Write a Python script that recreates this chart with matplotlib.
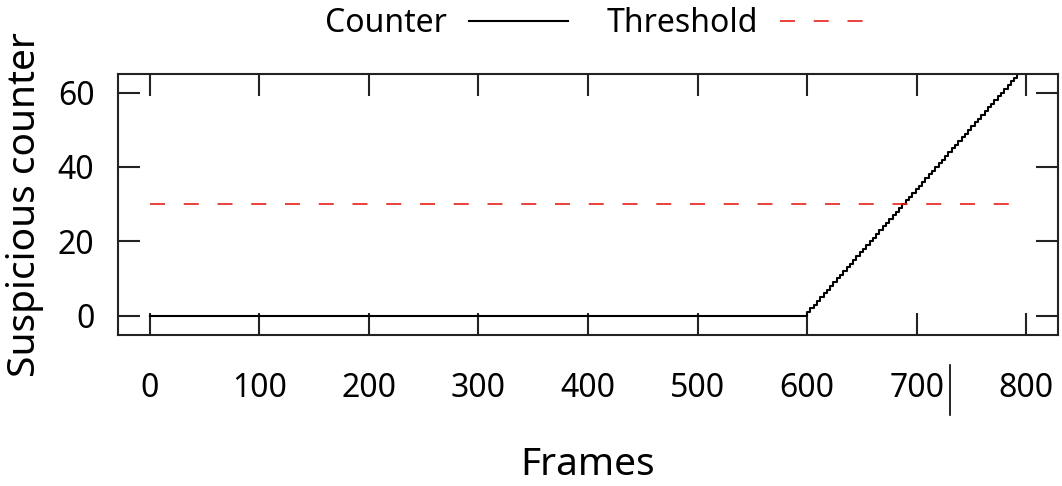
import matplotlib
matplotlib.use("Agg")
import matplotlib.pyplot as plt
from matplotlib.lines import Line2D

plt.rcParams['font.family'] = ['Noto Sans', 'DejaVu Sans']
plt.rcParams['lines.scale_dashes'] = False

# Data
counter_frames = [0, 600, 603, 606, 609, 612, 615, 618, 621, 624, 627, 630, 633, 636,
                  639, 642, 645, 648, 651, 654, 657, 660, 663, 666, 669, 672, 675,
                  678, 681, 684, 687, 690, 693, 696, 699, 702, 705, 708, 711, 714,
                  717, 720, 723, 726, 729, 732, 735, 738, 741, 744, 747, 750, 753,
                  756, 759, 762, 765, 768, 771, 774, 777, 780, 783, 786, 789, 792,
                  795, 798, 800]
counter_values = [0, 1, 2, 3, 4, 5, 6, 7, 8, 9, 10, 11, 12, 13, 14, 15, 16, 17, 18,
                  19, 20, 21, 22, 23, 24, 25, 26, 27, 28, 29, 30, 31, 32, 33, 34, 35,
                  36, 37, 38, 39, 40, 41, 42, 43, 44, 45, 46, 47, 48, 49, 50, 51, 52,
                  53, 54, 55, 56, 57, 58, 59, 60, 61, 62, 63, 64, 65, 66, 67, 67]
threshold_frames = [0, 800]
threshold_values = [30, 30]
x_ticks = [0, 100, 200, 300, 400, 500, 600, 700, 800]
y_ticks = [0, 20, 40, 60]

fig = plt.figure(figsize=(10.62, 4.86), dpi=100)
ax = fig.add_axes([0.1111, 0.3107, 0.8851, 0.537])

ax.plot(counter_frames, counter_values, color='black', lw=1.5,
        drawstyle='steps-post', label='Counter')
ax.plot(threshold_frames, threshold_values, color='#e8201a', lw=1.2,
        dashes=(10.8, 13.5), label='Threshold')

ax.set_xlim(-29, 829)
ax.set_ylim(-5.2, 65)
ax.set_xticks(x_ticks)
ax.set_yticks(y_ticks)

for s in ax.spines.values():
    s.set_linewidth(1.5)
    s.set_color('#222222')

ax.tick_params(axis='both', which='major', direction='in', length=15.8, width=1.5,
               color='#222222', labelsize=23, top=True, right=True)
ax.tick_params(axis='x', pad=27)
ax.tick_params(axis='y', pad=17)

ax.set_xlabel('Frames', fontsize=28, labelpad=29)
ax.set_ylabel('Suspicious counter', fontsize=28, labelpad=10)

leg = fig.legend(loc='center', bbox_to_anchor=(0.567, 0.951), ncol=2,
                 frameon=False, markerfirst=False, fontsize=23,
                 handlelength=3.1, handletextpad=0.7, columnspacing=1.2,
                 borderpad=0, borderaxespad=0)

# stray cursor mark seen in the reference
fig.add_artist(Line2D([0.8945, 0.8945], [0.146, 0.249], transform=fig.transFigure,
                      color='black', lw=1.2))

fig.savefig('out.png', dpi=100)
